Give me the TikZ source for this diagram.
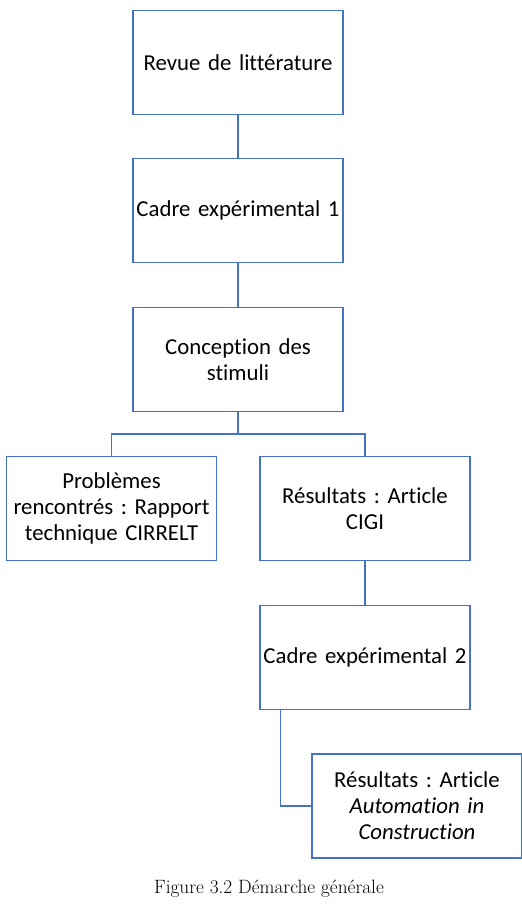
\documentclass[tikz,border=0pt]{standalone}
\usepackage{fontspec}
\setmainfont{Carlito}[Ligatures={NoCommon}]
\newfontfamily\capfont{Latin Modern Roman}
\definecolor{boxblue}{RGB}{68,114,196}
\frenchspacing
\begin{document}
\begin{tikzpicture}[x=1pt,y=-1pt,
  stepbox/.style={draw=boxblue,line width=1.4pt,rectangle,minimum width=210pt,minimum height=104pt,
    text width=208pt,align=center,inner sep=0pt,font=\fontsize{22.8}{26}\selectfont},
  conn/.style={draw=boxblue,line width=1.4pt}]
\useasboundingbox (0,0) rectangle (522,908);
\node[stepbox] (b1) at (238,62.5) {Revue de littérature};
\node[stepbox] (b2) at (238,210.5) {Cadre expérimental 1};
\node[stepbox] (b3) at (238,359.5) {Conception des\\stimuli};
\node[stepbox] (b4) at (111.5,508.3) {Problèmes\\rencontrés : Rapport\\technique CIRRELT};
\node[stepbox] (b5) at (365,508.3) {Résultats : Article\\CIGI};
\node[stepbox] (b6) at (365,657.5) {Cadre expérimental 2};
\node[stepbox] (b7) at (417,806) {Résultats : Article\\\textit{Automation in}\\\textit{Construction}};
\coordinate (j) at (238,434);
\coordinate (d) at ([xshift=21pt]b6.south west);
\draw[conn] (b1) -- (b2);
\draw[conn] (b2) -- (b3);
\draw[conn] (b3.south) -- (j);
\draw[conn] (b4.north) |- (j) -| (b5.north);
\draw[conn] (b5) -- (b6);
\draw[conn] (d) |- (b7.west);
\node[font=\capfont\fontsize{19.3}{22}\selectfont] (cap) at (269,889) {Figure 3.2 Démarche générale};
\end{tikzpicture}
\end{document}
